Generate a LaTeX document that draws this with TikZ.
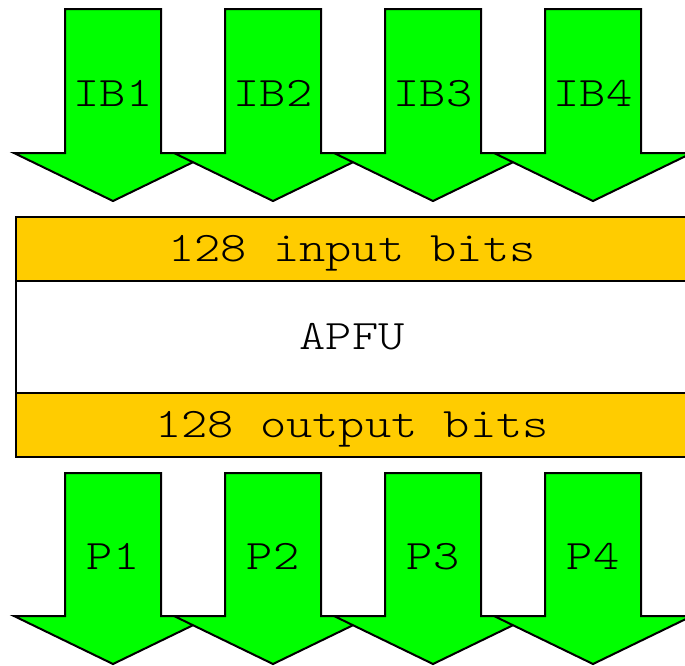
\documentclass[tikz,border=0pt]{standalone}
\usepackage{fontspec}
\newfontfamily\labelfont{Latin Modern Mono Light}[FakeStretch=1.19]
\definecolor{arrowgreen}{HTML}{00FF00}
\definecolor{bandorange}{HTML}{FFCC00}
\begin{document}
\begin{tikzpicture}[x=1pt,y=-1pt,line width=2pt,
  bigarrow/.style={draw=black,fill=arrowgreen,line join=miter},
  band/.style={draw=black,rectangle,minimum width=672pt,inner sep=0pt,outer sep=0pt},
  lbl/.style={anchor=base,inner sep=0pt,font=\labelfont\fontsize{42}{42}\selectfont}]
\useasboundingbox (0,0) rectangle (685,665);
\clip (0,0) rectangle (685,665);
% downward block arrows: centre x, shaft top, head base, tip
\newcommand{\blockarrow}[4]{%
  \path[bigarrow] (#1-48,#2) -- (#1+48,#2) -- (#1+48,#3) -- (#1+99,#3)
    -- (#1,#4) -- (#1-99,#3) -- (#1-48,#3) -- cycle;}
% input buses
\foreach \c/\n in {113/1,273/2,433/3,593/4}{
  \blockarrow{\c}{9}{153}{201}
  \node[lbl] (ib\n) at (\c,106) {IB\n};
}
% APFU block with its input and output registers
\node[band,fill=bandorange,minimum height=64pt] (inbits) at (352,249) {};
\node[band,fill=white,minimum height=112pt] (apfu) at (352,337) {};
\node[band,fill=bandorange,minimum height=64pt] (outbits) at (352,425) {};
\node[lbl] (inlbl) at (352,261) {128 input bits};
\node[lbl] (apfulbl) at (352,349) {APFU};
\node[lbl] (outlbl) at (352,437) {128 output bits};
% output buses
\foreach \c/\n in {113/1,273/2,433/3,593/4}{
  \blockarrow{\c}{473}{616}{664}
  \node[lbl] (p\n) at (\c,569) {P\n};
}
\end{tikzpicture}
\end{document}
